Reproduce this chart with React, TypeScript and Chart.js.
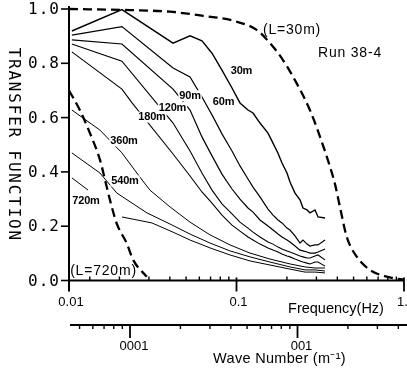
import React, { useEffect, useRef } from "react";
import { Chart, registerables } from "chart.js";

Chart.register(...registerables);

// ---------- data (frequency in Hz, transfer function values) ----------
const freqGrid = [0.0104, 0.0207, 0.0418, 0.0528, 0.0622, 0.0714, 0.0819, 0.094, 0.1049, 0.1171, 0.1255, 0.1381, 0.1542, 0.1652, 0.1769, 0.1869, 0.2002, 0.2086, 0.2235, 0.2394, 0.2495, 0.2636, 0.2747, 0.2943, 0.3067, 0.3377];
const tf30 = [0.919, 0.998, 0.874, 0.901, 0.883, 0.837, 0.775, 0.709, 0.654, 0.628, 0.617, 0.58, 0.543, 0.506, 0.469, 0.433, 0.396, 0.363, 0.322, 0.297, 0.267, 0.26, 0.249, 0.26, 0.234, 0.23];
const tf60 = [0.904, 0.935, 0.783, 0.75, 0.676, 0.61, 0.54, 0.477, 0.422, 0.374, 0.344, 0.308, 0.263, 0.241, 0.223, 0.212, 0.193, 0.186, 0.164, 0.138, 0.149, 0.134, 0.127, 0.131, 0.131, 0.149];
const tf90 = [0.886, 0.871, 0.705, 0.628, 0.529, 0.459, 0.392, 0.337, 0.3, 0.267, 0.252, 0.223, 0.201, 0.186, 0.171, 0.16, 0.149, 0.142, 0.127, 0.112, 0.109, 0.105, 0.101, 0.101, 0.105, 0.116];
const tf120 = [0.871, 0.808, 0.58, 0.477, 0.396, 0.333, 0.282, 0.245, 0.215, 0.193, 0.178, 0.16, 0.142, 0.134, 0.123, 0.116, 0.109, 0.105, 0.098, 0.09, 0.087, 0.083, 0.083, 0.09, 0.094, 0.076];
const freq180 = [0.0104, 0.0207, 0.0238, 0.0418, 0.0528, 0.0622, 0.0714, 0.0819, 0.094, 0.1049, 0.1171, 0.1255, 0.1381, 0.1542, 0.1652, 0.1769, 0.1869, 0.2002, 0.2086, 0.2235, 0.2394, 0.2495, 0.2636, 0.2747, 0.2943, 0.3067, 0.3377];
const tf180 = [0.842, 0.705, 0.654, 0.466, 0.385, 0.326, 0.285, 0.241, 0.204, 0.182, 0.16, 0.149, 0.134, 0.12, 0.112, 0.105, 0.098, 0.09, 0.087, 0.079, 0.072, 0.068, 0.064, 0.061, 0.068, 0.068, 0.053];
const freq360 = [0.0104, 0.0153, 0.0207, 0.0265, 0.0304, 0.0401, 0.0528, 0.0695, 0.0915, 0.1204, 0.1585, 0.2086, 0.2564, 0.2943, 0.3377];
const tf360 = [0.628, 0.554, 0.47, 0.381, 0.333, 0.271, 0.215, 0.168, 0.131, 0.101, 0.079, 0.061, 0.05, 0.046, 0.046];
const freq540 = [0.0104, 0.0153, 0.0193, 0.0292, 0.0401, 0.0528, 0.0695, 0.0915, 0.1204, 0.1585, 0.2086, 0.2564, 0.2943, 0.3377];
const tf540 = [0.47, 0.396, 0.322, 0.249, 0.208, 0.171, 0.138, 0.109, 0.087, 0.068, 0.05, 0.039, 0.039, 0.035];
const freq720 = [0.0104, 0.013, 0.016, 0.0207, 0.0313, 0.0418, 0.0528, 0.0695, 0.0915, 0.1204, 0.1585, 0.2086, 0.2564, 0.2943, 0.3377];
const tf720 = [0.378, 0.333, null, 0.234, 0.212, 0.178, 0.149, 0.12, 0.094, 0.072, 0.057, 0.042, 0.031, 0.031, 0.028];

// theoretical curves (dashed)
const freqL30 = [0.01, 0.0231, 0.0401, 0.0631, 0.0953, 0.132, 0.1585, 0.1895, 0.2288, 0.2747, 0.315, 0.3615, 0.3873, 0.4149, 0.455, 0.522, 0.6266, 0.7882, 0.9465, 1.0];
const tfL30 = [1.0, 0.996, 0.99, 0.975, 0.957, 0.923, 0.874, 0.812, 0.726, 0.627, 0.53, 0.419, 0.355, 0.27, 0.161, 0.088, 0.039, 0.014, 0.005, 0.004];
const freqL720 = [0.01, 0.0116, 0.01335, 0.01531, 0.01679, 0.01757, 0.01927, 0.02211, 0.0242, 0.0291];
const tfL720 = [0.7, 0.628, 0.542, 0.444, 0.345, 0.296, 0.21, 0.137, 0.075, 0.014];

// curve labels: text, frequency, value
const labelTexts = ["30m", "60m", "90m", "120m", "180m", "360m", "540m", "720m"];
const labelFreqs = [0.1071, 0.0837, 0.0528, 0.0415, 0.0313, 0.0213, 0.0216, 0.01263];
const labelVals = [0.772, 0.656, 0.68, 0.637, 0.602, 0.514, 0.3665, 0.293];
const noteTexts = ["(L=30m)", "Run 38-4", "(L=720m)"];
const noteFreqs = [0.2145, 0.476, 0.01607];
const noteVals = [0.9227, 0.838, 0.035];

// axes
const FREQ_MIN = 0.01;
const FREQ_MAX = 1.0;
const HZ_TO_WAVENUMBER = 1 / 231.3;
const yTicks = [0, 0.2, 0.4, 0.6, 0.8, 1.0];
const yTickLabels = ["0.0", "0.2", "0.4", "0.6", "0.8", "1.0"];
const freqMinorTicks = [0.0133, 0.02, 0.03, 0.04, 0.05, 0.06, 0.07, 0.08, 0.09, 0.2, 0.3, 0.4, 0.5, 0.6, 0.7, 0.8, 0.9];
const freqMajorTicks = [0.1, 1.0];
const freqLabelValues = [0.01, 0.1, 1.0];
const freqLabelTexts = ["0.01", "0.1", "1.0"];
const waveMinorTicks = [5e-5, 6e-5, 7e-5, 8e-5, 9e-5, 2e-4, 3e-4, 4e-4, 5e-4, 6e-4, 7e-4, 8e-4, 9e-4, 2e-3, 3e-3, 4e-3];
const waveMajorTicks = [1e-4, 1e-3];
const waveLabelTexts = ["0001", "001"];

function pts(fs: number[], vs: (number | null)[]) {
  return fs.map((f, i) => ({ x: f, y: vs[i] }));
}

const decor = {
  id: "decor",
  afterDatasetsDraw(chart: any) {
    const ctx: CanvasRenderingContext2D = chart.ctx;
    const xs = chart.scales.x;
    const ks = chart.scales.k;
    const ys = chart.scales.y;
    const x0 = xs.getPixelForValue(FREQ_MIN);
    const x1 = xs.getPixelForValue(FREQ_MAX);
    const yb = ys.getPixelForValue(0);
    const yt = ys.getPixelForValue(1);
    ctx.save();
    ctx.strokeStyle = "#000";
    ctx.fillStyle = "#000";
    ctx.textAlign = "center";
    ctx.textBaseline = "middle";

    // curve labels with white backing
    ctx.font = "bold 11px 'Liberation Sans', Arial, sans-serif";
    (ctx as any).letterSpacing = "-0.2px";
    labelTexts.forEach((t, i) => {
      const px = xs.getPixelForValue(labelFreqs[i]);
      const py = ys.getPixelForValue(labelVals[i]);
      const w = ctx.measureText(t).width;
      ctx.fillStyle = "#fff";
      ctx.fillRect(px - w / 2 - 1, py - 5.5, w + 2, 11);
      ctx.fillStyle = "#000";
      ctx.fillText(t, px, py);
    });
    ctx.font = "14px 'Liberation Sans', Arial, sans-serif";
    (ctx as any).letterSpacing = "0.8px";
    noteTexts.forEach((t, i) => {
      ctx.fillText(t, xs.getPixelForValue(noteFreqs[i]), ys.getPixelForValue(noteVals[i]));
    });
    (ctx as any).letterSpacing = "0px";

    const line = (ax: number, ay: number, bx: number, by: number) => {
      ctx.beginPath();
      ctx.moveTo(ax, ay);
      ctx.lineTo(bx, by);
      ctx.stroke();
    };

    // y axis
    ctx.lineWidth = 2;
    line(x0, yt - 3, x0, yb + 11);
    ctx.lineWidth = 1.6;
    yTicks.forEach((v) => {
      const py = ys.getPixelForValue(v);
      line(x0 - 8, py, x0, py);
    });
    ctx.font = "16px 'DejaVu Sans Mono', monospace";
    (ctx as any).letterSpacing = "1px";
    ctx.textAlign = "right";
    yTicks.forEach((v, i) => {
      ctx.fillText(yTickLabels[i], x0 - 9, ys.getPixelForValue(v) + 1);
    });
    // y title
    ctx.save();
    ctx.translate(13, (yt + yb) / 2);
    ctx.rotate(Math.PI / 2);
    ctx.textAlign = "center";
    ctx.font = "16px 'DejaVu Sans Mono', monospace";
    (ctx as any).letterSpacing = "1.8px";
    ctx.fillText("TRANSFER FUNCTION", 0, 0);
    ctx.restore();
    (ctx as any).letterSpacing = "0px";

    // frequency axis
    ctx.lineWidth = 2;
    line(x0, yb, x1, yb);
    ctx.lineWidth = 1.4;
    freqMinorTicks.forEach((f) => {
      const px = xs.getPixelForValue(f);
      line(px, yb, px, yb - 4);
    });
    ctx.lineWidth = 1.8;
    freqMajorTicks.forEach((f) => {
      const px = xs.getPixelForValue(f);
      line(px, yb - 3, px, yb + 11);
    });
    ctx.font = "13px 'Liberation Sans', Arial, sans-serif";
    ctx.textAlign = "center";
    freqLabelValues.forEach((f, i) => {
      ctx.fillText(freqLabelTexts[i], xs.getPixelForValue(f) + 2, yb + 22);
    });
    ctx.font = "14.5px 'Liberation Sans', Arial, sans-serif";
    ctx.fillText("Frequency(Hz)", x1 - 68, yb + 28);

    // wave number axis
    const yw = yb + 44.5;
    ctx.lineWidth = 1.8;
    line(x0 + 1, yw, chart.width, yw);
    ctx.lineWidth = 1.4;
    waveMinorTicks.forEach((k) => {
      const px = ks.getPixelForValue(k);
      line(px, yw, px, yw + 4);
    });
    ctx.lineWidth = 1.8;
    waveMajorTicks.forEach((k) => {
      const px = ks.getPixelForValue(k);
      line(px, yw, px, yw + 13);
    });
    ctx.font = "13px 'Liberation Sans', Arial, sans-serif";
    waveMajorTicks.forEach((k, i) => {
      ctx.fillText(waveLabelTexts[i], ks.getPixelForValue(k) + 4, yw + 21.5);
    });
    ctx.font = "14.5px 'Liberation Sans', Arial, sans-serif";
    (ctx as any).letterSpacing = "0.3px";
    ctx.fillText("Wave Number (m\u207B\u00B9)", ks.getPixelForValue(1e-3) - 18, yw + 34);
    (ctx as any).letterSpacing = "0px";

    ctx.restore();
  },
};

export default function App() {
  const ref = useRef<HTMLCanvasElement | null>(null);
  useEffect(() => {
    if (!ref.current) return;
    const solid = (data: any[], w: number) => ({
      data,
      borderColor: "#000",
      borderWidth: w,
      pointRadius: 0,
      tension: 0,
      spanGaps: false,
      fill: false,
    });
    const dashed = (data: any[]) => ({
      data,
      borderColor: "#000",
      borderWidth: 2.3,
      borderDash: [9, 5],
      pointRadius: 0,
      cubicInterpolationMode: "monotone",
      fill: false,
      clip: 4,
    });
    const chart = new Chart(ref.current, {
      type: "line",
      data: {
        datasets: [
          dashed(pts(freqL30, tfL30)),
          dashed(pts(freqL720, tfL720)),
          solid(pts(freqGrid, tf30), 1.4),
          solid(pts(freqGrid, tf60), 1.2),
          solid(pts(freqGrid, tf90), 1.2),
          solid(pts(freqGrid, tf120), 1.1),
          solid(pts(freq180, tf180), 1.1),
          solid(pts(freq360, tf360), 1.0),
          solid(pts(freq540, tf540), 1.0),
          solid(pts(freq720, tf720), 1.0),
        ] as any,
      },
      options: {
        responsive: false,
        animation: false,
        devicePixelRatio: 1,
        events: [],
        layout: { padding: { left: 69, right: 3, top: 9, bottom: 88.5 } },
        plugins: { legend: { display: false }, tooltip: { enabled: false } },
        scales: {
          x: { type: "logarithmic", min: FREQ_MIN, max: FREQ_MAX, display: false, bounds: "data" },
          k: {
            type: "logarithmic",
            axis: "x",
            position: "bottom",
            min: FREQ_MIN * HZ_TO_WAVENUMBER,
            max: FREQ_MAX * HZ_TO_WAVENUMBER,
            display: false,
            bounds: "data",
          },
          y: { type: "linear", min: 0, max: 1, display: false },
        },
      } as any,
      plugins: [decor],
    });
    return () => chart.destroy();
  }, []);
  return (
    <div style={{ position: "absolute", left: 0, top: 0, width: 407, height: 369, background: "#fff" }}>
      <canvas ref={ref} width={407} height={369} style={{ display: "block", width: 407, height: 369 }} />
    </div>
  );
}
